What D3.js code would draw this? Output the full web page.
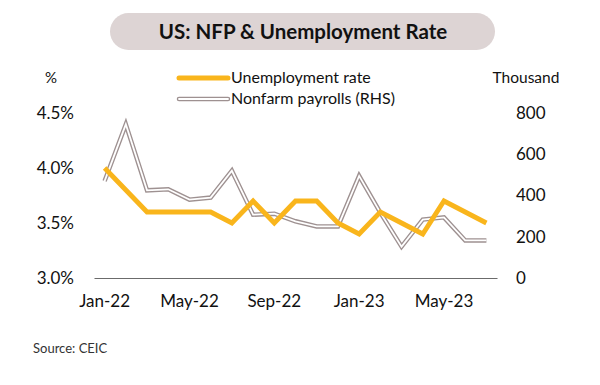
<!DOCTYPE html>
<html>
<head>
<meta charset="utf-8">
<script src="https://cdn.jsdelivr.net/npm/d3@7"></script>
<style>
  body { margin: 0; background: #fff; }
  svg { font-family: Lato, "Noto Sans", sans-serif; }
</style>
</head>
<body>
<div id="chart"></div>
<script>
const months = ["Jan-22", "Feb-22", "Mar-22", "Apr-22", "May-22", "Jun-22", "Jul-22", "Aug-22", "Sep-22", "Oct-22",
    "Nov-22", "Dec-22", "Jan-23", "Feb-23", "Mar-23", "Apr-23", "May-23", "Jun-23", "Jul-23"];
const unemployment = [4.0, 3.8, 3.6, 3.6, 3.6, 3.6, 3.5, 3.7, 3.5, 3.7, 3.7, 3.5, 3.4, 3.6, 3.5, 3.4, 3.7, 3.6, 3.5];
const payrolls = [470, 745, 425, 430, 380, 390, 520, 307, 312, 275, 250, 250, 495, 317, 152, 283, 294, 182, 182];
const xTickLabels = ["Jan-22", "May-22", "Sep-22", "Jan-23", "May-23"];
const leftTicks = [3.0, 3.5, 4.0, 4.5];
const rightTicks = [0, 200, 400, 600, 800];

const width = 600;
const height = 385;
const plot = { left: 94, right: 497, top: 113, bottom: 278 };
const yellow = "#f9b51c";
const gray = "#9e9191";

const svg = d3.select("#chart").append("svg")
    .attr("width", width)
    .attr("height", height);

// title box
svg.append("rect")
    .attr("x", 110).attr("y", 13)
    .attr("width", 385).attr("height", 37)
    .attr("rx", 18.5)
    .attr("fill", "#ddd4d4");
svg.append("text")
    .attr("x", 303).attr("y", 39)
    .attr("text-anchor", "middle")
    .attr("font-size", 20.5)
    .attr("font-weight", "bold")
    .attr("fill", "#111")
    .text("US: NFP & Unemployment Rate");

const xScale = d3.scaleBand()
    .domain(months)
    .range([plot.left, plot.right]);
const yLeft = d3.scaleLinear()
    .domain([3.0, 4.5])
    .range([plot.bottom, plot.top]);
const yRight = d3.scaleLinear()
    .domain([0, 800])
    .range([plot.bottom, plot.top]);
const cx = d => xScale(d) + xScale.bandwidth() / 2;

// x axis
const xAxis = svg.append("g")
    .attr("transform", `translate(0,${plot.bottom})`)
    .call(d3.axisBottom(xScale).tickValues(xTickLabels).tickSize(0).tickPadding(17));
xAxis.select(".domain").attr("stroke", "#6b6b6b").attr("stroke-width", 1.2);
xAxis.selectAll("text")
    .attr("font-size", 17)
    .attr("fill", "#111")
    .attr("font-family", "Lato, 'Noto Sans', sans-serif");

// left axis
const leftAxis = svg.append("g")
    .attr("transform", "translate(74,0)")
    .call(d3.axisLeft(yLeft).tickValues(leftTicks).tickSize(0).tickPadding(0).tickFormat(d => d.toFixed(1) + "%"));
leftAxis.select(".domain").remove();
leftAxis.selectAll("text")
    .attr("font-size", 17)
    .attr("fill", "#111")
    .attr("font-family", "Lato, 'Noto Sans', sans-serif");

// right axis
const rightAxis = svg.append("g")
    .attr("transform", "translate(516,0)")
    .call(d3.axisRight(yRight).tickValues(rightTicks).tickSize(0).tickPadding(0));
rightAxis.select(".domain").remove();
rightAxis.selectAll("text")
    .attr("font-size", 17)
    .attr("fill", "#111")
    .attr("font-family", "Lato, 'Noto Sans', sans-serif");

// axis titles
svg.append("text")
    .attr("x", 51).attr("y", 83)
    .attr("text-anchor", "middle")
    .attr("font-size", 15)
    .attr("fill", "#111")
    .text("%");
svg.append("text")
    .attr("x", 526).attr("y", 83)
    .attr("text-anchor", "middle")
    .attr("font-size", 15.5)
    .attr("fill", "#111")
    .text("Thousand");

// nonfarm payrolls, drawn as a double line
const nfpLine = d3.line()
    .x((d, i) => cx(months[i]))
    .y(d => yRight(d));
svg.append("path")
    .datum(payrolls)
    .attr("d", nfpLine)
    .attr("fill", "none")
    .attr("stroke", gray)
    .attr("stroke-width", 4.5)
    .attr("stroke-linejoin", "miter");
svg.append("path")
    .datum(payrolls)
    .attr("d", nfpLine)
    .attr("fill", "none")
    .attr("stroke", "#fff")
    .attr("stroke-width", 1.8)
    .attr("stroke-linejoin", "miter");

// unemployment rate
const urLine = d3.line()
    .x((d, i) => cx(months[i]))
    .y(d => yLeft(d));
svg.append("path")
    .datum(unemployment)
    .attr("d", urLine)
    .attr("fill", "none")
    .attr("stroke", yellow)
    .attr("stroke-width", 4.8)
    .attr("stroke-linejoin", "miter");

// legend
const legend = svg.append("g");
legend.append("line")
    .attr("x1", 179).attr("x2", 228)
    .attr("y1", 78).attr("y2", 78)
    .attr("stroke", yellow).attr("stroke-width", 5).attr("stroke-linecap", "round");
legend.append("text")
    .attr("x", 231).attr("y", 83)
    .attr("font-size", 16)
    .attr("fill", "#111")
    .text("Unemployment rate");
legend.append("line")
    .attr("x1", 179).attr("x2", 228)
    .attr("y1", 99).attr("y2", 99)
    .attr("stroke", gray).attr("stroke-width", 4.5).attr("stroke-linecap", "round");
legend.append("line")
    .attr("x1", 179).attr("x2", 228)
    .attr("y1", 99).attr("y2", 99)
    .attr("stroke", "#fff").attr("stroke-width", 1.8).attr("stroke-linecap", "round");
legend.append("text")
    .attr("x", 231).attr("y", 104)
    .attr("font-size", 16)
    .attr("fill", "#111")
    .text("Nonfarm payrolls (RHS)");

// source
svg.append("text")
    .attr("x", 33).attr("y", 353)
    .attr("font-size", 13)
    .attr("fill", "#333")
    .text("Source: CEIC");
</script>
</body>
</html>
